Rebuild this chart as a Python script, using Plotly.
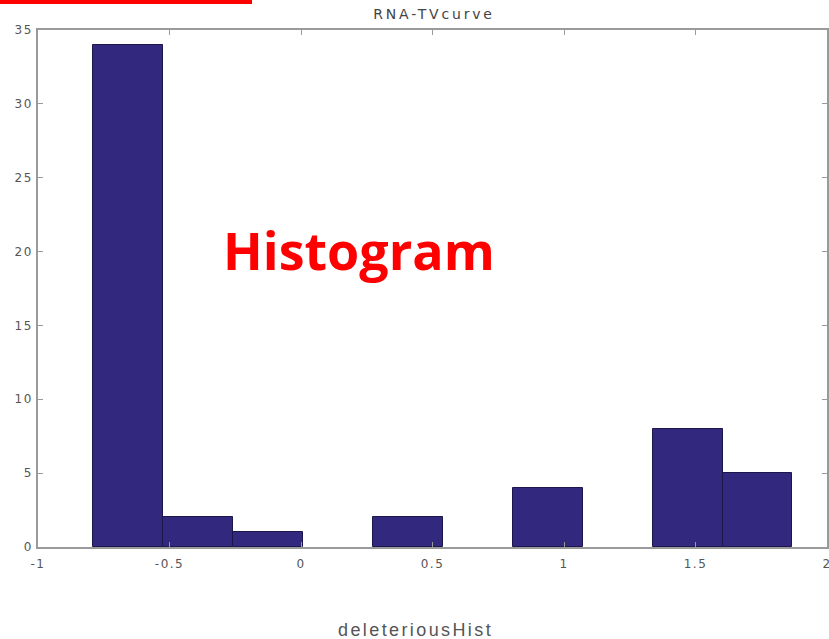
import plotly.graph_objects as go

# Histogram of deleteriousHist: bin edges and counts per bin
bin_edges = [-0.79, -0.524, -0.258, 0.008, 0.274, 0.54, 0.806, 1.072, 1.338, 1.604, 1.868]
bin_counts = [34, 2, 1, 0, 2, 0, 4, 0, 8, 5]

x_ticks = [-1, -0.5, 0, 0.5, 1, 1.5, 2]
x_tick_text = ["-1", "-0.5", "0", "0.5", "1", "1.5", "2"]
y_ticks = [0, 5, 10, 15, 20, 25, 30, 35]
y_tick_text = ["0", "5", "10", "15", "20", "25", "30", "35"]

centers = [(bin_edges[i] + bin_edges[i + 1]) / 2 for i in range(len(bin_counts))]
widths = [bin_edges[i + 1] - bin_edges[i] for i in range(len(bin_counts))]
# empty bins get no outline so the baseline stays clean
edge_widths = [1 if c > 0 else 0 for c in bin_counts]


def spaced(text, px):
    return f'<span style="letter-spacing:{px}px">{text}</span>'


W, H = 829, 639
L, R, T, B = 38, 2, 30, 92
PW, PH = W - L - R, H - T - B

fig = go.Figure()
fig.add_trace(go.Bar(
    x=centers, y=bin_counts, width=widths,
    marker=dict(color="#32297f", line=dict(color="#1c174a", width=edge_widths)),
    hoverinfo="x+y",
))

axis_common = dict(
    showgrid=False, zeroline=False, showline=True, mirror="ticks",
    linecolor="#9a9a9a", linewidth=1.5,
    ticks="inside", ticklen=5, tickcolor="#9a9a9a", tickwidth=1,
    tickfont=dict(family="DejaVu Sans", size=12, color="#555"),
    ticklabeloverflow="allow", automargin=False,
)

fig.update_layout(
    width=W, height=H,
    margin=dict(l=L, r=R, t=T, b=B),
    paper_bgcolor="white", plot_bgcolor="white",
    showlegend=False,
    bargap=0,
    xaxis=dict(range=[-1, 2], tickvals=x_ticks,
               ticktext=[spaced(t, 1.5) for t in x_tick_text],
               ticklabelstandoff=5, **axis_common),
    yaxis=dict(range=[0, 35], tickvals=y_ticks,
               ticktext=[spaced(t, 1.5) for t in y_tick_text],
               ticklabelstandoff=1, **axis_common),
    title=dict(text=spaced("RNA-TVcurve", 2.8), x=(434 - 0) / W, xanchor="center",
               yref="container", y=1 - 14 / H, yanchor="middle",
               font=dict(family="DejaVu Sans", size=14, color="#444")),
    shapes=[
        # red accent bar along the top-left edge
        dict(type="rect", xref="paper", yref="paper",
             x0=(0 - L) / PW, x1=(252 - L) / PW,
             y0=1 + (T - 4) / PH, y1=1 + T / PH,
             fillcolor="#ff0000", line=dict(width=0)),
    ],
    annotations=[
        dict(text=spaced("deleteriousHist", 2.4), xref="paper", yref="paper",
             x=(415 - L) / PW, y=-(630 - (H - B)) / PH,
             xanchor="center", yanchor="middle", showarrow=False,
             font=dict(family="Liberation Sans, Arial", size=18, color="#555")),
        dict(text="<b>Histogram</b>", xref="paper", yref="paper",
             x=(359 - L) / PW, y=((H - B) - 250) / PH,
             xanchor="center", yanchor="middle", showarrow=False,
             font=dict(family="Open Sans", size=52, color="#ff0000")),
    ],
)

fig.write_html("out.html")
